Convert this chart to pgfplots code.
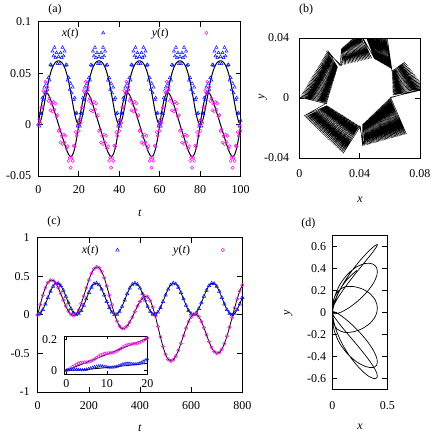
\documentclass[12pt,border=0pt]{standalone}
\usepackage{fontspec}
\setmainfont{Liberation Serif}
\usepackage{pgfplots}
\pgfplotsset{compat=1.18}
\usepackage{pgfplotstable}
\definecolor{myblue}{RGB}{10,20,240}
\definecolor{mymag}{RGB}{245,20,235}

% panel (a): t, smooth x, smooth y, x data, y data (units of 1e-3)
\pgfplotstableread{
t xs ys X Y
0 0 0 0 0
0.5 0.7 6.5 -1.5 4.9
1 2.7 12.7 11.2 1.7
1.5 6.0 18.3 10.5 16.6
2 10.2 23.0 25.9 16.8
2.5 15.1 26.6 24.1 32.8
3 20.5 29.2 36.3 30.8
3.5 26.1 30.6 30.6 41.6
4 31.6 31.0 40.0 32.7
4.5 36.8 30.5 34.0 36.6
5 41.6 29.1 45.6 23.0
5.5 45.9 27.2 43.2 25.5
6 49.7 24.8 58.2 13.8
6.5 52.9 22.0 57.4 20.3
7 55.5 19.0 71.3 12.8
7.5 57.6 15.9 66.6 22.1
8 59.3 12.7 75.0 14.4
8.5 60.5 9.5 65.0 20.5
9 61.3 6.4 69.8 8.0
9.5 61.8 3.2 59.1 9.3
10 62.0 0.0 66.0 -6.2
10.5 61.8 -3.2 59.1 -4.8
11 61.3 -6.4 69.8 -17.4
11.5 60.5 -9.5 65.0 -11.2
12 59.3 -12.7 75.0 -18.9
12.5 57.6 -15.9 66.6 -9.7
13 55.5 -19.0 71.3 -17.3
13.5 52.9 -22.0 57.4 -11.0
14 49.7 -24.8 58.2 -23.1
14.5 45.9 -27.2 43.2 -21.0
15 41.6 -29.1 45.6 -35.3
15.5 36.8 -30.5 34.0 -32.1
16 31.6 -31.0 40.0 -42.0
16.5 26.1 -30.6 30.6 -32.3
17 20.5 -29.2 36.3 -35.3
17.5 15.1 -26.6 24.1 -20.5
18 10.2 -23.0 25.9 -21.3
18.5 6.0 -18.3 10.5 -7.3
19 2.7 -12.7 11.2 -11.0
19.5 0.7 -6.5 -1.5 -0.4
20 0.0 0.0 4.0 -6.2
20.5 0.7 6.5 -1.5 4.9
21 2.7 12.7 11.2 1.7
21.5 6.0 18.3 10.5 16.6
22 10.2 23.0 25.9 16.8
22.5 15.1 26.6 24.1 32.8
23 20.5 29.2 36.3 30.8
23.5 26.1 30.6 30.6 41.6
24 31.6 31.0 40.0 32.7
24.5 36.8 30.5 34.0 36.6
25 41.6 29.1 45.6 23.0
25.5 45.9 27.2 43.2 25.5
26 49.7 24.8 58.2 13.8
26.5 52.9 22.0 57.4 20.3
27 55.5 19.0 71.3 12.8
27.5 57.6 15.9 66.6 22.1
28 59.3 12.7 75.0 14.4
28.5 60.5 9.5 65.0 20.5
29 61.3 6.4 69.8 8.0
29.5 61.8 3.2 59.1 9.3
30 62.0 0.0 66.0 -6.2
30.5 61.8 -3.2 59.1 -4.8
31 61.3 -6.4 69.8 -17.4
31.5 60.5 -9.5 65.0 -11.2
32 59.3 -12.7 75.0 -18.9
32.5 57.6 -15.9 66.6 -9.7
33 55.5 -19.0 71.3 -17.3
33.5 52.9 -22.0 57.4 -11.0
34 49.7 -24.8 58.2 -23.1
34.5 45.9 -27.2 43.2 -21.0
35 41.6 -29.1 45.6 -35.3
35.5 36.8 -30.5 34.0 -32.1
36 31.6 -31.0 40.0 -42.0
36.5 26.1 -30.6 30.6 -32.3
37 20.5 -29.2 36.3 -35.3
37.5 15.1 -26.6 24.1 -20.5
38 10.2 -23.0 25.9 -21.3
38.5 6.0 -18.3 10.5 -7.3
39 2.7 -12.7 11.2 -11.0
39.5 0.7 -6.5 -1.5 -0.4
40 0.0 0.0 4.0 -6.2
40.5 0.7 6.5 -1.5 4.9
41 2.7 12.7 11.2 1.7
41.5 6.0 18.3 10.5 16.6
42 10.2 23.0 25.9 16.8
42.5 15.1 26.6 24.1 32.8
43 20.5 29.2 36.3 30.8
43.5 26.1 30.6 30.6 41.6
44 31.6 31.0 40.0 32.7
44.5 36.8 30.5 34.0 36.6
45 41.6 29.1 45.6 23.0
45.5 45.9 27.2 43.2 25.5
46 49.7 24.8 58.2 13.8
46.5 52.9 22.0 57.4 20.3
47 55.5 19.0 71.3 12.8
47.5 57.6 15.9 66.6 22.1
48 59.3 12.7 75.0 14.4
48.5 60.5 9.5 65.0 20.5
49 61.3 6.4 69.8 8.0
49.5 61.8 3.2 59.1 9.3
50 62.0 0.0 66.0 -6.2
50.5 61.8 -3.2 59.1 -4.8
51 61.3 -6.4 69.8 -17.4
51.5 60.5 -9.5 65.0 -11.2
52 59.3 -12.7 75.0 -18.9
52.5 57.6 -15.9 66.6 -9.7
53 55.5 -19.0 71.3 -17.3
53.5 52.9 -22.0 57.4 -11.0
54 49.7 -24.8 58.2 -23.1
54.5 45.9 -27.2 43.2 -21.0
55 41.6 -29.1 45.6 -35.3
55.5 36.8 -30.5 34.0 -32.1
56 31.6 -31.0 40.0 -42.0
56.5 26.1 -30.6 30.6 -32.3
57 20.5 -29.2 36.3 -35.3
57.5 15.1 -26.6 24.1 -20.5
58 10.2 -23.0 25.9 -21.3
58.5 6.0 -18.3 10.5 -7.3
59 2.7 -12.7 11.2 -11.0
59.5 0.7 -6.5 -1.5 -0.4
60 0.0 0.0 4.0 -6.2
60.5 0.7 6.5 -1.5 4.9
61 2.7 12.7 11.2 1.7
61.5 6.0 18.3 10.5 16.6
62 10.2 23.0 25.9 16.8
62.5 15.1 26.6 24.1 32.8
63 20.5 29.2 36.3 30.8
63.5 26.1 30.6 30.6 41.6
64 31.6 31.0 40.0 32.7
64.5 36.8 30.5 34.0 36.6
65 41.6 29.1 45.6 23.0
65.5 45.9 27.2 43.2 25.5
66 49.7 24.8 58.2 13.8
66.5 52.9 22.0 57.4 20.3
67 55.5 19.0 71.3 12.8
67.5 57.6 15.9 66.6 22.1
68 59.3 12.7 75.0 14.4
68.5 60.5 9.5 65.0 20.5
69 61.3 6.4 69.8 8.0
69.5 61.8 3.2 59.1 9.3
70 62.0 0.0 66.0 -6.2
70.5 61.8 -3.2 59.1 -4.8
71 61.3 -6.4 69.8 -17.4
71.5 60.5 -9.5 65.0 -11.2
72 59.3 -12.7 75.0 -18.9
72.5 57.6 -15.9 66.6 -9.7
73 55.5 -19.0 71.3 -17.3
73.5 52.9 -22.0 57.4 -11.0
74 49.7 -24.8 58.2 -23.1
74.5 45.9 -27.2 43.2 -21.0
75 41.6 -29.1 45.6 -35.3
75.5 36.8 -30.5 34.0 -32.1
76 31.6 -31.0 40.0 -42.0
76.5 26.1 -30.6 30.6 -32.3
77 20.5 -29.2 36.3 -35.3
77.5 15.1 -26.6 24.1 -20.5
78 10.2 -23.0 25.9 -21.3
78.5 6.0 -18.3 10.5 -7.3
79 2.7 -12.7 11.2 -11.0
79.5 0.7 -6.5 -1.5 -0.4
80 0.0 0.0 4.0 -6.2
80.5 0.7 6.5 -1.5 4.9
81 2.7 12.7 11.2 1.7
81.5 6.0 18.3 10.5 16.6
82 10.2 23.0 25.9 16.8
82.5 15.1 26.6 24.1 32.8
83 20.5 29.2 36.3 30.8
83.5 26.1 30.6 30.6 41.6
84 31.6 31.0 40.0 32.7
84.5 36.8 30.5 34.0 36.6
85 41.6 29.1 45.6 23.0
85.5 45.9 27.2 43.2 25.5
86 49.7 24.8 58.2 13.8
86.5 52.9 22.0 57.4 20.3
87 55.5 19.0 71.3 12.8
87.5 57.6 15.9 66.6 22.1
88 59.3 12.7 75.0 14.4
88.5 60.5 9.5 65.0 20.5
89 61.3 6.4 69.8 8.0
89.5 61.8 3.2 59.1 9.3
90 62.0 0.0 66.0 -6.2
90.5 61.8 -3.2 59.1 -4.8
91 61.3 -6.4 69.8 -17.4
91.5 60.5 -9.5 65.0 -11.2
92 59.3 -12.7 75.0 -18.9
92.5 57.6 -15.9 66.6 -9.7
93 55.5 -19.0 71.3 -17.3
93.5 52.9 -22.0 57.4 -11.0
94 49.7 -24.8 58.2 -23.1
94.5 45.9 -27.2 43.2 -21.0
95 41.6 -29.1 45.6 -35.3
95.5 36.8 -30.5 34.0 -32.1
96 31.6 -31.0 40.0 -42.0
96.5 26.1 -30.6 30.6 -32.3
97 20.5 -29.2 36.3 -35.3
97.5 15.1 -26.6 24.1 -20.5
98 10.2 -23.0 25.9 -21.3
98.5 6.0 -18.3 10.5 -7.3
99 2.7 -12.7 11.2 -11.0
99.5 0.7 -6.5 -1.5 -0.4
100 0.0 0.0 4.0 -6.2
}\dataA

% panel (b): trajectory in the (x,y) plane (units of 1e-3)
\pgfplotstableread{
x y
18.1 -3.9
0.4 0.5
18.5 -2.6
1.4 2.1
18.9 -1.3
2.3 3.8
19.3 0.0
3.3 5.4
19.6 1.2
4.3 7.0
20.0 2.5
5.2 8.7
20.4 3.8
6.2 10.3
20.8 5.1
7.2 12.0
21.2 6.4
8.1 13.6
21.6 7.7
9.1 15.2
21.9 8.9
10.1 16.9
22.3 10.2
11.0 18.5
22.7 11.5
12.0 20.1
23.1 12.8
13.0 21.8
23.5 14.1
13.9 23.4
23.9 15.4
14.9 25.1
24.2 16.6
15.9 26.7
24.6 17.9
16.8 28.3
25.0 19.2
17.8 30.0
25.4 20.5
18.8 31.6
27.0 21.5
28.0 33.0
28.9 22.0
29.1 34.0
30.8 22.4
30.2 35.0
32.7 22.9
31.3 36.0
34.6 23.3
32.4 37.0
36.5 23.8
33.5 38.0
38.5 24.2
34.5 39.0
40.4 24.7
35.6 40.0
42.3 25.1
36.7 41.0
44.2 25.6
37.8 42.0
46.1 26.0
38.9 43.0
48.0 26.5
40.0 44.0
50.0 26.0
43.0 44.0
51.2 25.3
44.7 43.8
52.4 24.6
46.3 43.6
53.7 23.8
48.0 43.3
54.9 23.1
49.7 43.1
56.1 22.4
51.3 42.9
57.3 21.7
53.0 42.7
58.6 20.9
54.7 42.4
59.8 20.2
56.3 42.2
61.0 19.5
58.0 42.0
61.5 18.0
70.0 24.0
61.5 16.5
71.3 22.4
61.6 15.1
72.5 20.7
61.6 13.6
73.8 19.1
61.7 12.2
75.1 17.5
61.7 10.7
76.4 15.8
61.8 9.3
77.6 14.2
61.8 7.8
78.9 12.5
61.9 6.4
80.2 10.9
61.9 4.9
81.5 9.3
62.0 3.5
82.7 7.6
62.0 2.0
84.0 6.0
60.5 0.5
71.0 -24.0
59.5 -0.4
69.5 -24.4
58.6 -1.4
67.9 -24.8
57.6 -2.3
66.4 -25.3
56.6 -3.3
64.9 -25.7
55.6 -4.2
63.4 -26.1
54.7 -5.2
61.8 -26.5
53.7 -6.1
60.3 -26.9
52.7 -7.1
58.8 -27.4
51.7 -8.0
57.3 -27.8
50.8 -9.0
55.7 -28.2
49.8 -9.9
54.2 -28.6
48.8 -10.9
52.7 -29.1
47.8 -11.8
51.2 -29.5
46.9 -12.8
49.6 -29.9
45.9 -13.7
48.1 -30.3
44.9 -14.7
46.6 -30.7
43.9 -15.6
45.1 -31.2
43.0 -16.6
43.5 -31.6
42.0 -17.5
42.0 -32.0
40.5 -19.0
29.0 -37.0
39.3 -18.3
27.6 -35.7
38.2 -17.5
26.3 -34.4
37.0 -16.8
24.9 -33.1
35.9 -16.1
23.5 -31.7
34.7 -15.3
22.2 -30.4
33.6 -14.6
20.8 -29.1
32.4 -13.8
19.4 -27.8
31.2 -13.1
18.1 -26.5
30.1 -12.4
16.7 -25.2
28.9 -11.6
15.3 -23.8
27.8 -10.9
13.9 -22.5
26.6 -10.2
12.6 -21.2
25.4 -9.4
11.2 -19.9
24.3 -8.7
9.8 -18.6
23.1 -8.0
8.5 -17.3
22.0 -7.2
7.1 -15.9
20.8 -6.5
5.7 -14.6
19.6 -5.8
4.4 -13.3
18.5 -5.0
3.0 -12.0
18.3 -3.3
0.9 1.3
18.7 -2.0
1.9 3.0
19.1 -0.7
2.8 4.6
19.5 0.6
3.8 6.2
19.8 1.9
4.8 7.9
20.2 3.2
5.7 9.5
20.6 4.4
6.7 11.1
21.0 5.7
7.7 12.8
21.4 7.0
8.6 14.4
21.8 8.3
9.6 16.0
22.1 9.6
10.6 17.7
22.5 10.9
11.5 19.3
22.9 12.1
12.5 21.0
23.3 13.4
13.5 22.6
23.7 14.7
14.4 24.2
24.1 16.0
15.4 25.9
24.4 17.3
16.4 27.5
24.8 18.5
17.3 29.1
25.2 19.8
18.3 30.8
28.0 21.7
28.5 33.5
29.9 22.2
29.6 34.5
31.8 22.6
30.7 35.5
33.7 23.1
31.8 36.5
35.6 23.5
32.9 37.5
37.5 24.0
34.0 38.5
39.4 24.5
35.1 39.5
41.3 24.9
36.2 40.5
43.2 25.4
37.3 41.5
45.1 25.8
38.4 42.5
47.0 26.3
39.5 43.5
50.6 25.6
43.8 43.9
51.8 24.9
45.5 43.7
53.0 24.2
47.1 43.5
54.3 23.5
48.8 43.2
55.5 22.8
50.5 43.0
56.7 22.0
52.1 42.8
57.9 21.3
53.8 42.6
59.2 20.6
55.5 42.3
60.4 19.9
57.1 42.1
61.5 17.3
70.6 23.2
61.6 15.8
71.9 21.6
61.6 14.4
73.2 19.9
61.6 12.9
74.4 18.3
61.7 11.5
75.7 16.7
61.7 10.0
77.0 15.0
61.8 8.5
78.3 13.4
61.8 7.1
79.5 11.7
61.9 5.6
80.8 10.1
61.9 4.2
82.1 8.5
62.0 2.7
83.4 6.8
60.0 0.0
70.2 -24.2
59.0 -0.9
68.7 -24.6
58.1 -1.9
67.2 -25.0
57.1 -2.8
65.6 -25.5
56.1 -3.8
64.1 -25.9
55.1 -4.7
62.6 -26.3
54.2 -5.7
61.1 -26.7
53.2 -6.6
59.5 -27.1
52.2 -7.5
58.0 -27.6
51.2 -8.5
56.5 -28.0
50.3 -9.4
55.0 -28.4
49.3 -10.4
53.4 -28.8
48.3 -11.3
51.9 -29.3
47.3 -12.3
50.4 -29.7
46.4 -13.2
48.9 -30.1
45.4 -14.2
47.3 -30.5
44.4 -15.1
45.8 -30.9
43.4 -16.1
44.3 -31.4
42.5 -17.0
42.8 -31.8
39.9 -18.6
28.3 -36.3
38.7 -17.9
26.9 -35.0
37.6 -17.2
25.6 -33.7
36.4 -16.4
24.2 -32.4
35.3 -15.7
22.8 -31.1
34.1 -14.9
21.5 -29.8
32.9 -14.2
20.1 -28.4
31.8 -13.5
18.7 -27.1
30.6 -12.7
17.4 -25.8
29.5 -12.0
16.0 -24.5
28.3 -11.3
14.6 -23.2
27.2 -10.5
13.3 -21.9
26.0 -9.8
11.9 -20.6
24.8 -9.1
10.5 -19.2
23.7 -8.3
9.2 -17.9
22.5 -7.6
7.8 -16.6
21.4 -6.9
6.4 -15.3
20.2 -6.1
5.1 -14.0
19.0 -5.4
3.7 -12.7
}\dataB

% panels (c) and (d)
\pgfplotstableread{
t x y
0 0 0
10 0.0173 0.131
20 0.0662 0.251
30 0.1384 0.349
40 0.2219 0.417
50 0.3026 0.448
60 0.3668 0.443
70 0.4037 0.408
80 0.4072 0.349
90 0.3766 0.273
100 0.3171 0.191
110 0.2387 0.112
120 0.1547 0.047
130 0.0791 0.005
140 0.0247 -0.010
150 0.0007 0.008
160 0.0111 0.061
170 0.0542 0.141
180 0.1227 0.241
190 0.2050 0.348
200 0.2873 0.450
210 0.3558 0.535
220 0.3989 0.594
230 0.4093 0.619
240 0.3853 0.608
250 0.3309 0.559
260 0.2553 0.478
270 0.1713 0.372
280 0.0929 0.251
290 0.0334 0.128
300 0.0028 0.013
310 0.0063 -0.082
320 0.0432 -0.148
330 0.1074 -0.178
340 0.1881 -0.174
350 0.2716 -0.145
360 0.3438 -0.095
370 0.3927 -0.031
380 0.4100 0.041
390 0.3927 0.111
400 0.3438 0.172
410 0.2716 0.216
420 0.1881 0.238
430 0.1074 0.232
440 0.0432 0.184
450 0.0063 0.097
460 0.0028 -0.019
470 0.0334 -0.153
480 0.0929 -0.289
490 0.1713 -0.413
500 0.2553 -0.513
510 0.3309 -0.578
520 0.3853 -0.600
530 0.4093 -0.583
540 0.3989 -0.536
550 0.3558 -0.462
560 0.2873 -0.370
570 0.2050 -0.270
580 0.1227 -0.173
590 0.0542 -0.088
600 0.0111 -0.027
610 0.0007 0.006
620 0.0247 0.006
630 0.0791 -0.026
640 0.1547 -0.087
650 0.2387 -0.168
660 0.3171 -0.259
670 0.3766 -0.348
680 0.4072 -0.424
690 0.4037 -0.476
700 0.3668 -0.499
710 0.3026 -0.489
720 0.2219 -0.447
730 0.1384 -0.374
740 0.0662 -0.277
750 0.0173 -0.162
760 0.0000 -0.038
770 0.0173 0.088
780 0.0662 0.205
790 0.1384 0.306
800 0.2219 0.384
}\dataC

% inset of (c)
\pgfplotstableread{
t m b
0 0 0
0.5 0.0060 0.002
1 0.0138 0.004
1.5 0.0227 0.0055
2 0.0316 0.006
2.5 0.0394 0.0055
3 0.0454 0.004
3.5 0.0492 0.003
4 0.0512 0.002
4.5 0.0521 0.0035
5 0.0530 0.006
5.5 0.0550 0.0095
6 0.0588 0.014
6.5 0.0648 0.018
7 0.0726 0.022
7.5 0.0815 0.025
8 0.0904 0.027
8.5 0.0982 0.0275
9 0.1042 0.026
9.5 0.1080 0.024
10 0.1100 0.021
10.5 0.1109 0.019
11 0.1118 0.019
11.5 0.1138 0.020
12 0.1176 0.022
12.5 0.1236 0.025
13 0.1314 0.030
13.5 0.1403 0.035
14 0.1492 0.040
14.5 0.1570 0.043
15 0.1630 0.045
15.5 0.1668 0.045
16 0.1688 0.043
16.5 0.1697 0.041
17 0.1706 0.040
17.5 0.1726 0.041
18 0.1764 0.045
18.5 0.1824 0.050
19 0.1902 0.057
19.5 0.1991 0.064
20 0.2080 0.072
}\dataI

\pgfplotsset{
  panel/.style={
    scale only axis, anchor=south west,
    tick align=inside, major tick length=5pt,
    axis line style={line width=0.8pt},
    every tick/.append style={line width=0.6pt, black},
    tick label style={font=\fontsize{12}{14}\selectfont},
    /pgf/number format/assume math mode=true,
  },
}

\begin{document}
\begin{tikzpicture}[x=1pt,y=1pt]
\useasboundingbox (0,0) rectangle (436,434);

% ---------- (a)
\begin{axis}[panel, at={(38.3pt,258pt)}, width=202.4pt, height=154.3pt,
  xmin=0, xmax=100, ymin=-50, ymax=100,
  xtick={0,20,40,60,80,100},
  ytick={-50,0,50,100}, yticklabels={-0.05,0,0.05,0.1},
  xticklabel style={yshift=-5pt}, yticklabel style={xshift=-3pt},
  legend columns=2, legend plot pos=right,
  legend style={at={(rel axis cs:0.105,0.927)}, anchor=west, draw=none, fill=none,
    inner sep=0pt, font=\fontsize{12}{14}\selectfont}]
\addplot[only marks, mark=triangle, mark size=1.8pt, myblue, mark options={line width=0.5pt}]
  table[x=t,y=X]{\dataA};
\addlegendentry{\textit{x}(\textit{t})\rule{21pt}{0pt}}
\addplot[only marks, mark=o, mark size=1.6pt, mymag, mark options={line width=0.5pt}]
  table[x=t,y=Y]{\dataA};
\addlegendentry{\rule{45pt}{0pt}\textit{y}(\textit{t})\rule{34pt}{0pt}}
\addplot[black, line width=1pt, forget plot] table[x=t,y=xs]{\dataA};
\addplot[black, line width=1pt, forget plot] table[x=t,y=ys]{\dataA};
\end{axis}

% ---------- (b)
\begin{axis}[panel, at={(299.3pt,276pt)}, width=120.7pt, height=120pt,
  xmin=0, xmax=80, ymin=-40, ymax=40,
  xtick={0,40,80}, xticklabels={0,0.04,0.08},
  ytick={-40,0,40}, yticklabels={-0.04,0,0.04},
  xticklabel style={yshift=-7pt}, yticklabel style={xshift=-6pt}]
\addplot[black, line width=0.45pt] table[x=x,y=y]{\dataB};
\end{axis}

% ---------- (c)
\begin{axis}[panel, at={(37.7pt,42pt)}, width=204.6pt, height=154.5pt,
  xmin=0, xmax=800, ymin=-1, ymax=1,
  xtick={0,200,400,600,800}, ytick={-1,-0.5,0,0.5,1},
  xticklabel style={yshift=-5pt}, yticklabel style={xshift=-4pt},
  legend columns=2, legend plot pos=right,
  legend style={at={(rel axis cs:0.205,0.919)}, anchor=west, draw=none, fill=none,
    inner sep=0pt, font=\fontsize{12}{14}\selectfont}]
\addplot[black, line width=0.8pt, smooth, forget plot] table[x=t,y=x]{\dataC};
\addplot[black, line width=0.8pt, smooth, forget plot] table[x=t,y=y]{\dataC};
\addplot[only marks, mark=triangle, mark size=2pt, myblue, mark options={line width=0.5pt}]
  table[x=t,y=x]{\dataC};
\addlegendentry{\textit{x}(\textit{t})\rule{15pt}{0pt}}
\addplot[only marks, mark=o, mark size=1.7pt, mymag, mark options={line width=0.5pt}]
  table[x=t,y=y]{\dataC};
\addlegendentry{\rule{52pt}{0pt}\textit{y}(\textit{t})\rule{29pt}{0pt}}
\end{axis}

% ---------- inset of (c)
\begin{axis}[panel, at={(64.3pt,59.7pt)}, width=83pt, height=38.3pt,
  xmin=-0.5, xmax=20, ymin=-0.025, ymax=0.22,
  xtick={0,10,20}, ytick={0,0.2}, major tick length=3pt,
  axis background/.style={fill=white},
  xticklabel style={yshift=-1pt}, yticklabel style={xshift=-3pt}]
\addplot[only marks, mark=o, mark size=1.5pt, mymag, mark options={line width=0.5pt}]
  table[x=t,y=m]{\dataI};
\addplot[only marks, mark=triangle, mark size=1.6pt, myblue, mark options={line width=0.5pt}]
  table[x=t,y=b]{\dataI};
\addplot[black, line width=0.8pt] coordinates {(0,0) (20,0.205)};
\addplot[black, line width=0.8pt] coordinates {(0,0) (5,0.006) (10,0.018) (15,0.031) (20,0.045)};
\end{axis}

% ---------- (d)
\begin{axis}[panel, at={(332.3pt,44.3pt)}, width=55pt, height=154pt,
  xmin=0, xmax=0.5, ymin=-0.7, ymax=0.7,
  xtick={0,0.5}, ytick={-0.6,-0.4,-0.2,0,0.2,0.4,0.6},
  xticklabel style={yshift=-8pt}, yticklabel style={xshift=-2pt}]
\addplot[black, line width=0.7pt, smooth] table[x=x,y=y]{\dataC};
\end{axis}

% ---------- labels
\node at (55,424) {(a)};
\node at (306,424) {(b)};
\node at (54,212.3) {(c)};
\node at (308.3,210.7) {(d)};
\node at (140,220.7) {\textit{t}};
\node at (140,5.7) {\textit{t}};
\node at (360,234) {\textit{x}};
\node[rotate=90] at (263,337) {\textit{y}};
\node at (360,7.3) {\textit{x}};
\node[rotate=90] at (288.3,120.7) {\textit{y}};
\end{tikzpicture}
\end{document}
